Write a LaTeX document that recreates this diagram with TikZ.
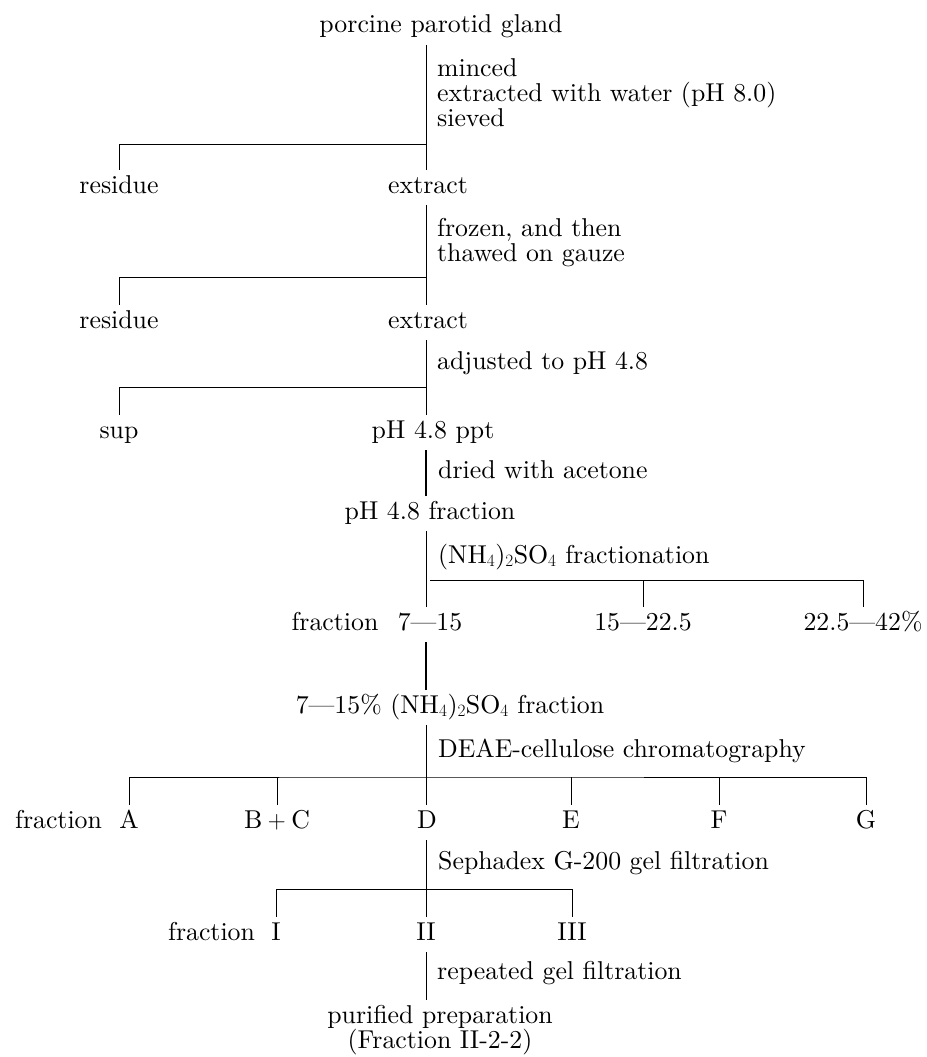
\documentclass[tikz,border=0pt]{standalone}
\usepackage{fontspec}
\setmainfont{lmroman10-regular.otf}
\newcommand\chartfont{\fontsize{25.8pt}{25pt}\selectfont}
\tikzset{
  lbl/.style={anchor=base, inner xsep=0pt, inner ysep=5pt, text height=18pt, text depth=7pt, font=\chartfont},
  note/.style={anchor=base west, inner sep=0pt, font=\chartfont},
  notes/.style={anchor=north west, inner sep=0pt, align=left, font=\chartfont},
  ln/.style={line width=1pt},
  thk/.style={line width=1.8pt}
}
\begin{document}
\begin{tikzpicture}[x=1pt,y=-1pt]
\useasboundingbox (0,0) rectangle (926,1057);
\coordinate (spine) at (426,0);
% labels
\node[lbl] (pp) at (441,33) {porcine parotid gland};
\node[lbl] (res1) at (119,193) {residue};
\node[lbl] (ex1) at (428,193) {extract};
\node[lbl] (res2) at (119,328) {residue};
\node[lbl] (ex2) at (428,328) {extract};
\node[lbl] (sup) at (119,438) {sup};
\node[lbl] (ppt) at (433,438) {pH 4.8 ppt};
\node[lbl] (phf) at (430,519) {pH 4.8 fraction};
\node[lbl] (f715) at (430,630) {7---15};
\node[lbl, anchor=base east] (fr1) at ([xshift=-19pt]f715.base west) {fraction};
\node[lbl] (f1522) at (643,630) {15---22.5};
\node[lbl] (f2242) at (863,630) {22.5---42\%};
\node[lbl] (amm) at (450,713) {7---15\% (NH$_4$)$_2$SO$_4$ fraction};
\node[lbl] (A) at (129,828) {A};
\node[lbl, anchor=base east] (fr2) at ([xshift=-17pt]A.base west) {fraction};
\node[lbl] (BC) at (277,828) {B${}+{}$C};
\node[lbl] (D) at (427,828) {D};
\node[lbl] (E) at (571,828) {E};
\node[lbl] (F) at (719,828) {F};
\node[lbl] (G) at (866,828) {G};
\node[lbl] (I) at (276,940) {I};
\node[lbl, anchor=base east] (fr3) at ([xshift=-16pt]I.base west) {fraction};
\node[lbl] (II) at (426,940) {II};
\node[lbl] (III) at (572,940) {III};
\node[anchor=north, inner sep=0pt, align=center, font=\chartfont] (pur) at (440,1005) {purified preparation\\(Fraction II-2-2)};
% annotations
\node[notes] (n1) at (437,58) {minced\\extracted with water (pH 8.0)\\sieved};
\node[notes] (n2) at (437,218) {frozen, and then\\thawed on gauze};
\node[note] (n3) at (437,369) {adjusted to pH 4.8};
\node[note] (n4) at (438,478) {dried with acetone};
\node[note] (n5) at (438,563) {(NH$_4$)$_2$SO$_4$ fractionation};
\node[note] (n6) at (438,757) {DEAE-cellulose chromatography};
\node[note] (n7) at (438,869) {Sephadex G-200 gel filtration};
\node[note] (n8) at (437,979) {repeated gel filtration};
% junctions
\coordinate (b1) at (426,144);
\coordinate (b2) at (426,277);
\coordinate (b3) at (426,387);
\coordinate (b5) at (430,580);
\coordinate (b6) at (426,777);
\coordinate (b7) at (426,889);
% connectors
\draw[ln] (pp.south -| spine) -- (ex1.north -| spine);
\draw[ln] (b1) -| (res1.north);
\draw[ln] (ex1.south -| spine) -- (ex2.north -| spine);
\draw[ln] (b2) -| (res2.north);
\draw[ln] (ex2.south -| spine) -- (ppt.north -| spine);
\draw[ln] (b3) -| (sup.north);
\draw[thk] (ppt.south -| spine) -- (phf.north -| spine);
\draw[ln] (phf.south -| spine) -- (f715.north -| spine);
\draw[ln] (b5) -| (f2242.north);
\draw[ln] (b5 -| f1522) -- (f1522.north);
\draw[thk] (f715.south -| spine) -- (amm.north -| spine);
\draw[ln] (amm.south -| spine) -- (D.north -| spine);
\draw[ln] (A.north) |- (b6) -| (G.north);
\draw[ln] (b6 -| BC) -- (BC.north);
\draw[ln] (b6 -| E) -- (E.north);
\draw[ln] (b6 -| F) -- (F.north);
\draw[ln] (D.south -| spine) -- (II.north -| spine);
\draw[ln] (I.north) |- (b7) -| (III.north);
\draw[ln] (II.south -| spine) -- ([yshift=5pt]pur.north -| spine);
\end{tikzpicture}
\end{document}
